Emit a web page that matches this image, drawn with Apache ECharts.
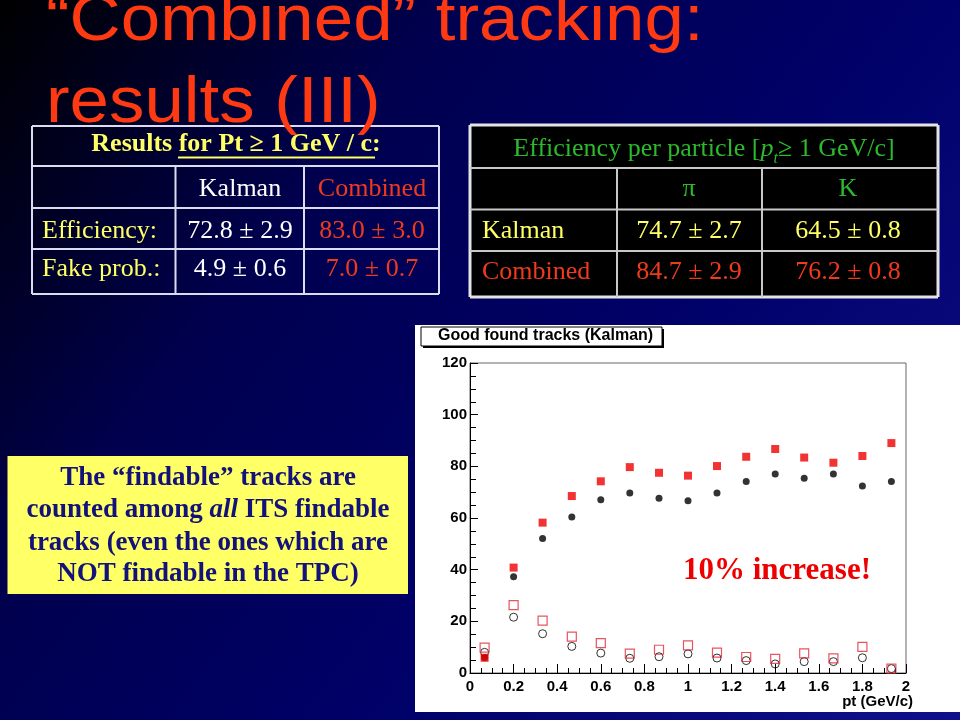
<!DOCTYPE html>
<html><head><meta charset="utf-8">
<script src="https://cdn.jsdelivr.net/npm/echarts@6/dist/echarts.min.js"></script>
<style>html,body{margin:0;padding:0;background:#000;}#c{width:960px;height:720px;}</style>
</head><body><div id="c"></div>
<script>
// ---- data ----
const ptBins = [0.067, 0.2, 0.333, 0.467, 0.6, 0.733, 0.867, 1.0, 1.133, 1.267, 1.4, 1.533, 1.667, 1.8, 1.933];
const kalmanGood   = [6.0, 37.3, 52.1, 60.4, 67.1, 69.7, 67.6, 66.7, 69.7, 74.1, 77.0, 75.4, 77.0, 72.4, 74.1];
const combinedGood = [5.9, 40.8, 58.2, 68.5, 74.2, 79.7, 77.5, 76.4, 80.1, 83.7, 86.7, 83.4, 81.4, 84.0, 89.0];
const kalmanFake   = [8.0, 21.6, 15.2, 10.3, 7.7, 5.7, 6.3, 7.4, 5.8, 4.8, 3.5, 4.4, 4.4, 5.9, 1.7];
const combinedFake = [9.8, 26.3, 20.3, 14.1, 11.6, 7.5, 9.0, 10.7, 7.9, 6.2, 5.5, 7.6, 5.7, 10.1, 1.7];

const titleLines = ['\u201CCombined\u201D tracking:', 'results (III)'];
const leftHeader = 'Results for Pt \u2265 1 GeV / c:';
const leftCols = ['Kalman', 'Combined'];
const leftRows = ['Efficiency:', 'Fake prob.:'];
const leftVals = [['72.8 \u00B1 2.9', '83.0 \u00B1 3.0'], ['4.9 \u00B1 0.6', '7.0 \u00B1 0.7']];
const rightCols = ['\u03C0', 'K'];
const rightRows = ['Kalman', 'Combined'];
const rightVals = [['74.7 \u00B1 2.7', '64.5 \u00B1 0.8'], ['84.7 \u00B1 2.9', '76.2 \u00B1 0.8']];
const noteLines = ['The \u201Cfindable\u201D tracks are', 'counted among |all| ITS findable', 'tracks (even the ones which are', 'NOT findable in the TPC)'];
const plotTitle = 'Good found tracks (Kalman)';
const xName = 'pt (GeV/c)';
const annotation = '10% increase!';

// ---- styles ----
const RED = '#f03a1c', YEL = '#ffff66', GRN = '#2cba2c', WHT = '#ffffff';
const SERIF = '"Liberation Serif", "Times New Roman", serif';
const SANS = '"Liberation Sans", Arial, sans-serif';
const shadow = {textShadowColor: 'rgba(0,0,0,0.85)', textShadowOffsetX: 2, textShadowOffsetY: 2, textShadowBlur: 0};

function T(text, x, y, font, fill, align, z, extra) {
  return Object.assign({type: 'text', x: x, y: y, z: z || 10,
    style: Object.assign({text: text, font: font, fill: fill, textAlign: align || 'center', textVerticalAlign: 'middle'}, extra && extra.style || {})},
    extra && extra.el || {});
}
function L(x1, y1, x2, y2, color, w, z) {
  return {type: 'line', z: z || 9, shape: {x1: x1, y1: y1, x2: x2, y2: y2}, style: {stroke: color, lineWidth: w}};
}
function R(x, y, w, h, fill, stroke, lw, z) {
  return {type: 'rect', z: z || 1, shape: {x: x, y: y, width: w, height: h}, style: {fill: fill, stroke: stroke || null, lineWidth: lw || 0}};
}

const g = [];
// background
g.push({type: 'rect', z: 0, shape: {x: 0, y: 0, width: 960, height: 720},
  style: {fill: new echarts.graphic.LinearGradient(0, 0, 1, 1, [
    {offset: 0, color: '#000000'}, {offset: 0.3, color: '#00004e'}, {offset: 0.6, color: '#000068'}, {offset: 1, color: '#10108c'}])}});
// white chart panel
g.push(R(415, 325, 545, 387, '#ffffff', null, 0, 1));

// left table
const ltFont = '26px ' + SERIF;
g.push(L(32, 126, 439, 126, '#dcdcf0', 2), L(32, 294, 439, 294, '#dcdcf0', 2), L(32, 126, 32, 294, '#dcdcf0', 2), L(439, 126, 439, 294, '#dcdcf0', 2));
g.push(L(32, 166, 439, 166, '#dcdcf0', 2), L(32, 208, 439, 208, '#dcdcf0', 2), L(32, 249, 439, 249, '#dcdcf0', 2));
g.push(L(175.5, 166, 175.5, 294, '#dcdcf0', 2), L(304, 166, 304, 294, '#dcdcf0', 2));
g.push(T(leftHeader, 236, 144, 'bold 26px ' + SERIF, YEL, 'center', 10, {style: shadow}));
g.push(L(178, 157.5, 375, 157.5, YEL, 2, 10));
g.push(T(leftCols[0], 240, 189, ltFont, WHT, 'center', 10, {style: shadow}));
g.push(T(leftCols[1], 372, 189, ltFont, RED, 'center', 10, {style: shadow}));
[231, 269].forEach(function (yy, i) {
  g.push(T(leftRows[i], 42, yy, ltFont, YEL, 'left', 10, {style: shadow}));
  g.push(T(leftVals[i][0], 240, yy, ltFont, WHT, 'center', 10, {style: shadow}));
  g.push(T(leftVals[i][1], 372, yy, ltFont, RED, 'center', 10, {style: shadow}));
});

// right table
g.push(R(470, 125, 468, 172, '#000000', null, 0, 2));
g.push(L(470, 125, 938, 125, '#e4e4e4', 3), L(470, 297, 938, 297, '#e4e4e4', 3), L(470, 125, 470, 297, '#e4e4e4', 3), L(938, 125, 938, 297, '#e4e4e4', 3));
g.push(L(470, 168, 938, 168, '#c8c8c8', 2), L(470, 209.5, 938, 209.5, '#c8c8c8', 2), L(470, 251, 938, 251, '#c8c8c8', 2));
g.push(L(617, 168, 617, 297, '#c8c8c8', 2), L(762, 168, 762, 297, '#c8c8c8', 2));
g.push({type: 'text', x: 704, y: 149, z: 10, style: {
  text: '{n|Efficiency per particle [}{i|p}{s|t}{n|\u2265 1 GeV/c]}', textAlign: 'center', textVerticalAlign: 'middle',
  rich: {
    n: {font: '26px ' + SERIF, fill: GRN, lineHeight: 36, verticalAlign: 'middle'},
    i: {font: 'italic 26px ' + SERIF, fill: GRN, lineHeight: 36, verticalAlign: 'middle'},
    s: {font: 'italic 16px ' + SERIF, fill: GRN, lineHeight: 16, verticalAlign: 'bottom'}
  }}});
g.push(T(rightCols[0], 689, 189, '26px ' + SERIF, GRN));
g.push(T(rightCols[1], 848, 189, '26px ' + SERIF, GRN));
[[231, YEL], [272, RED]].forEach(function (p, i) {
  g.push(T(rightRows[i], 482, p[0], '26px ' + SERIF, p[1], 'left'));
  g.push(T(rightVals[i][0], 689, p[0], '26px ' + SERIF, p[1]));
  g.push(T(rightVals[i][1], 848, p[0], '26px ' + SERIF, p[1]));
});

// title (over the table)
const tStyle = {textShadowColor: 'rgba(0,0,0,0.7)', textShadowOffsetX: 3, textShadowOffsetY: 3};
g.push(T(titleLines[0], 46, 22, '65px ' + SANS, '#ff3a12', 'left', 20, {el: {scaleX: 1.09}, style: tStyle}));
g.push(T(titleLines[1], 46, 104, '65px ' + SANS, '#ff3a12', 'left', 20, {el: {scaleX: 1.09}, style: tStyle}));

// note box
g.push(R(7.5, 456, 400.5, 138, '#ffff66', null, 0, 2));
const NAVY = '#12127a';
const noteY = [478, 510, 543, 574];
noteLines.forEach(function (ln, i) {
  if (ln.indexOf('|') >= 0) {
    const parts = ln.split('|');
    g.push({type: 'text', x: 208, y: noteY[i], z: 10, style: {
      text: '{b|' + parts[0] + '}{i|' + parts[1] + '}{b|' + parts[2] + '}', textAlign: 'center', textVerticalAlign: 'middle',
      rich: {b: {font: 'bold 27px ' + SERIF, fill: NAVY}, i: {font: 'italic bold 27px ' + SERIF, fill: NAVY}}}});
  } else {
    g.push(T(ln, 208, noteY[i], 'bold 27px ' + SERIF, NAVY));
  }
});

// plot title box
g.push(R(423, 329, 241, 19, '#000000', null, 0, 3));
g.push(R(421, 327, 241, 19, '#ffffff', '#000000', 1, 4));
g.push(T(plotTitle, 438, 336, 'bold 16px ' + SANS, '#000000', 'left', 10));
// x axis name
g.push(T(xName, 913, 702, 'bold 15px ' + SANS, '#000000', 'right', 10));
// annotation
g.push(T(annotation, 683, 571, 'bold 31px ' + SERIF, '#ee0000', 'left', 10));

function pts(vals) { return ptBins.map(function (x, i) { return [x, vals[i]]; }); }

const axisLabel = {color: '#000', fontFamily: SANS, fontWeight: 'bold', fontSize: 15};
const option = {
  animation: false,
  backgroundColor: 'transparent',
  graphic: {elements: g},
  grid: {left: 470, top: 363, width: 436, height: 310, show: true, borderColor: '#666', borderWidth: 1, backgroundColor: 'transparent', z: 5, containLabel: false},
  xAxis: {type: 'value', min: 0, max: 2, interval: 0.2, z: 6,
    axisLine: {show: true, lineStyle: {color: '#000', width: 1}},
    axisTick: {show: true, inside: true, length: 9, lineStyle: {color: '#000'}},
    minorTick: {show: true, splitNumber: 4, length: 5, lineStyle: {color: '#000'}},
    splitLine: {show: false},
    axisLabel: Object.assign({margin: 6, formatter: function (v) { return String(Number(v.toFixed(1))); }}, axisLabel)},
  yAxis: {type: 'value', min: 0, max: 120, interval: 20, z: 6,
    axisLine: {show: true, lineStyle: {color: '#000', width: 1}},
    axisTick: {show: true, inside: true, length: 8, lineStyle: {color: '#000'}},
    minorTick: {show: true, splitNumber: 4, length: 6, lineStyle: {color: '#000'}},
    splitLine: {show: false},
    axisLabel: Object.assign({margin: 3}, axisLabel)},
  series: [
    {type: 'scatter', z: 7, name: 'Kalman good', data: pts(kalmanGood), symbol: 'circle', symbolSize: 7, itemStyle: {color: '#000'}},
    {type: 'scatter', z: 8, name: 'Combined good', data: pts(combinedGood), symbol: 'rect', symbolSize: 8, itemStyle: {color: '#ee0000'}},
    {type: 'scatter', z: 7, name: 'Kalman fake', data: pts(kalmanFake), symbol: 'circle', symbolSize: 8, itemStyle: {color: 'rgba(0,0,0,0)', borderColor: '#000', borderWidth: 1}},
    {type: 'scatter', z: 8, name: 'Combined fake', data: pts(combinedFake), symbol: 'rect', symbolSize: 9, itemStyle: {color: 'rgba(0,0,0,0)', borderColor: '#e0283a', borderWidth: 1.2}}
  ]
};
const chart = echarts.init(document.getElementById('c'), null, {renderer: 'canvas'});
chart.setOption(option);
</script></body></html>
